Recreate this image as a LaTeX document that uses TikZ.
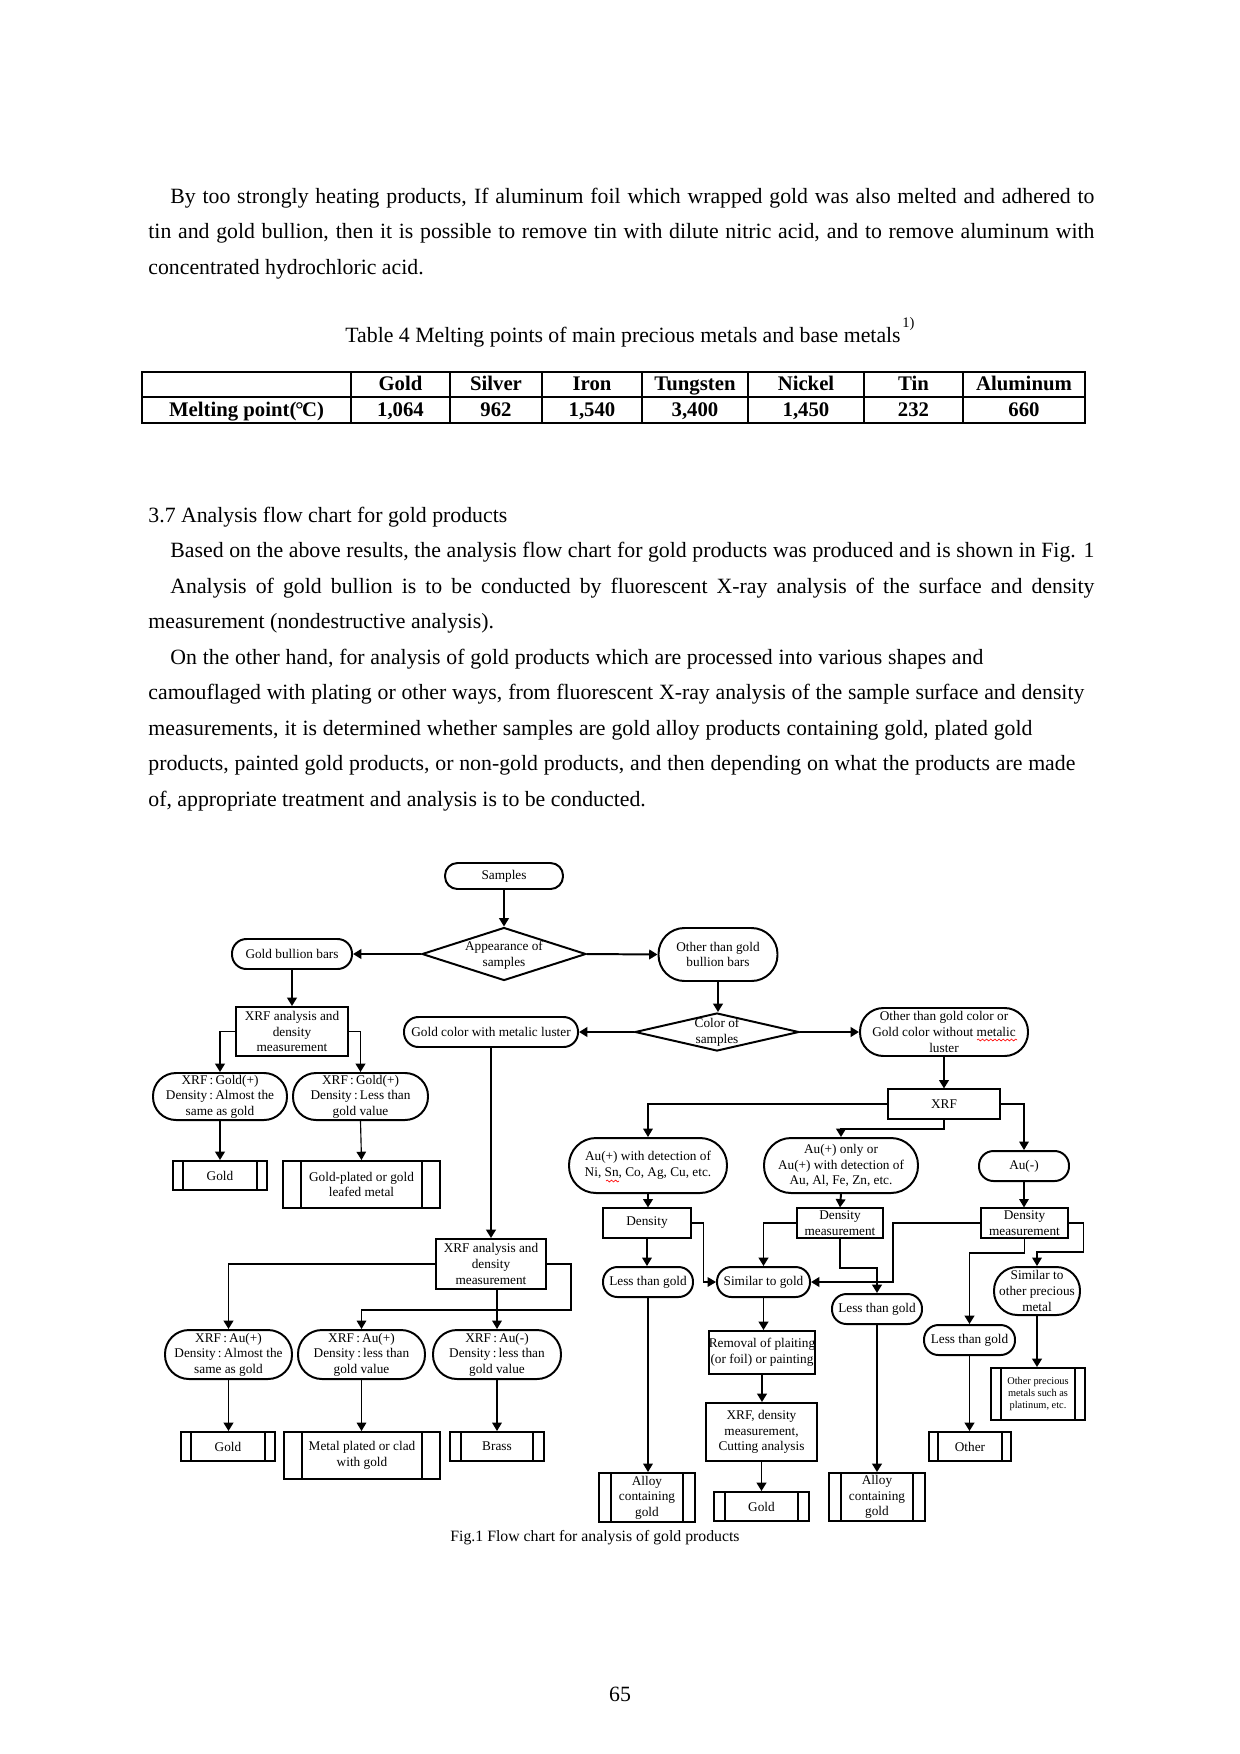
\documentclass[tikz,border=0pt]{standalone}
\usepackage{fontspec}
\setmainfont{Liberation Serif}
\usetikzlibrary{arrows.meta,shapes.geometric,decorations.pathmorphing}
\newlength\pxu
\setlength\pxu{0.16935mm}
\newcommand\pbars[2]{\draw[line width=0.95pt] ([xshift=#2\pxu]#1.north west) -- ([xshift=#2\pxu]#1.south west) ([xshift=-#2\pxu]#1.north east) -- ([xshift=-#2\pxu]#1.south east);}
\tikzset{
 fc/.style={font=\fontsize{6.4}{7.5}\selectfont, align=center, inner sep=0pt},
 stad/.style 2 args={fc, draw, line width=0.95pt, minimum width=#1\pxu, minimum height=#2\pxu, rounded corners={(#2*0.5-0.5)*\pxu}},
 rbox/.style 2 args={fc, draw, line width=0.95pt, minimum width=#1\pxu, minimum height=#2\pxu},
 tbox/.style 2 args={fc, draw, line width=0.55pt, minimum width=#1\pxu, minimum height=#2\pxu},
 dia/.style 2 args={draw, diamond, line width=0.95pt, inner sep=0pt, minimum width=#1\pxu, minimum height=#2\pxu},
 ar/.style={-{Triangle[width=4.6pt,length=4pt]}, line width=0.95pt},
 art/.style={-{Triangle[width=4.6pt,length=4pt]}, line width=0.55pt},
 bt/.style={font=\fontsize{10.5}{12}\selectfont, inner sep=0pt, anchor=west, text height=0.6em, text depth=0pt},
 tb/.style={font=\fontsize{10}{12}\selectfont\bfseries, inner sep=0pt, text height=0.6em, text depth=0pt},
 wav/.style={red, line width=0.3pt, decorate, decoration={snake, amplitude=0.45pt, segment length=2pt}},
}
\begin{document}
\begin{tikzpicture}[x=0.16935mm, y=-0.16935mm]
\useasboundingbox (0,0) rectangle (1240,1754);
\fill[white] (0,0) rectangle (1240,1754);

% ---------- body text ----------
\node[bt] (l1) at (170,197) {\makebox[924\pxu][s]{By too strongly heating products, If aluminum foil which wrapped gold was also melted and adhered to}};
\node[bt] (l2) at (148,232.5) {\makebox[946\pxu][s]{tin and gold bullion, then it is possible to remove tin with dilute nitric acid, and to remove aluminum with}};
\node[bt] (l3) at (148,268) {concentrated hydrochloric acid.};

\node[bt] (tcap) at (345,336) {Table 4 Melting points of main precious metals and base metals};
\node[font=\fontsize{7}{8}\selectfont, inner sep=0pt, anchor=west] (tsup) at (902,324) {1)};

% ---------- table ----------
\draw[line width=1pt] (142,372) rectangle (1085,423);
\draw[line width=1pt] (142,397) -- (1085,397);
\foreach \cx in {351,450,542,642,748,864,963} {\draw[line width=1pt] (\cx,372) -- (\cx,423);}
\node[tb] (h1) at (400.5,384.5) {Gold};
\node[tb] (h2) at (496,384.5) {Silver};
\node[tb] (h3) at (592,384.5) {Iron};
\node[tb] (h4) at (695,384.5) {Tungsten};
\node[tb] (h5) at (806,384.5) {Nickel};
\node[tb] (h6) at (913.5,384.5) {Tin};
\node[tb] (h7) at (1024,384.5) {Aluminum};
\node[tb] (r0) at (246.5,410) {Melting point(\kern-0.05em°\kern-0.08em C)};
\node[tb] (r1) at (400.5,410) {1,064};
\node[tb] (r2) at (496,410) {962};
\node[tb] (r3) at (592,410) {1,540};
\node[tb] (r4) at (695,410) {3,400};
\node[tb] (r5) at (806,410) {1,450};
\node[tb] (r6) at (913.5,410) {232};
\node[tb] (r7) at (1024,410) {660};

% ---------- section text ----------
\node[bt] (s0) at (148,516) {3.7 Analysis flow chart for gold products};
\node[bt] (s1) at (170,551.5) {\makebox[924\pxu][s]{Based on the above results, the analysis flow chart for gold products was produced and is shown in Fig. 1}};
\node[bt] (s2) at (170,587) {\makebox[924\pxu][s]{Analysis of gold bullion is to be conducted by fluorescent X-ray analysis of the surface and density}};
\node[bt] (s3) at (148,622.5) {measurement (nondestructive analysis).};
\node[bt] (s4) at (170,658) {\makebox[813\pxu][s]{On the other hand, for analysis of gold products which are processed into various shapes and}};
\node[bt] (s5) at (148,693.5) {\makebox[936\pxu][s]{camouflaged with plating or other ways, from fluorescent X-ray analysis of the sample surface and density}};
\node[bt] (s6) at (148,729) {\makebox[884\pxu][s]{measurements, it is determined whether samples are gold alloy products containing gold, plated gold}};
\node[bt] (s7) at (148,764.5) {\makebox[927\pxu][s]{products, painted gold products, or non-gold products, and then depending on what the products are made}};
\node[bt] (s8) at (148,800) {of, appropriate treatment and analysis is to be conducted.};

% ---------- flow chart nodes ----------
\node[stad={118}{26}] (samples) at (504,876) {Samples};
\node[dia={164}{53}] (app) at (504,954) {};
\node[fc] (appt) at (504,955) {Appearance of\\samples};
\node[stad={120}{30}] (gbb) at (292,954) {Gold bullion bars};
\node[stad={119}{53}] (otg) at (718,954.5) {Other than gold\\bullion bars};
\node[rbox={112}{49}] (xrf1) at (292,1031.5) {XRF analysis and\\density\\measurement};
\node[stad={174}{30}] (gcl) at (491,1032) {Gold color with metalic luster};
\node[dia={164}{38}] (col) at (717,1032) {};
\node[fc] (colt) at (717,1032) {Color of\\samples};
\node[stad={168}{48}] (otc) at (944,1032) {Other than gold color or\\Gold color without metalic\\luster};
\node[stad={134}{47}] (e1) at (220,1096.5) {XRF\,:\,Gold(+)\\Density\,:\,Almost the\\same as gold};
\node[stad={135}{47}] (e2) at (360.5,1096.5) {XRF\,:\,Gold(+)\\Density\,:\,Less than\\gold value};
\node[rbox={94}{29}] (g1) at (220,1175.5) {Gold};
\node[rbox={157}{47}] (gp) at (361.5,1184.5) {Gold-plated or gold\\leafed metal};
\node[tbox={112}{30}] (xrf) at (944,1104) {XRF};
\node[stad={158}{55}] (a1) at (648,1165.5) {Au(+) with detection of\\Ni, Sn, Co, Ag, Cu, etc.};
\node[stad={154}{55}] (a2) at (841,1165.5) {Au(+) only or\\Au(+) with detection of\\Au, Al, Fe, Zn, etc.};
\node[stad={90}{30}] (am) at (1024,1166) {Au(-)};
\node[tbox={88}{30}] (d1) at (647,1223) {Density};
\node[tbox={86}{30}] (d2) at (840,1223) {Density\\measurement};
\node[tbox={87}{30}] (d3) at (1024.5,1223) {Density\\measurement};
\node[rbox={110}{50}] (xrf2) at (491,1264) {XRF analysis and\\density\\measurement};
\node[stad={90}{30}] (lt1) at (648,1282) {Less than gold};
\node[stad={93}{30}] (sg) at (763.5,1282) {Similar to gold};
\node[stad={90}{30}] (lt2) at (877,1309) {Less than gold};
\node[stad={86}{48}] (so) at (1037,1291) {Similar to\\other precious\\metal};
\node[stad={91}{30}] (lt3) at (969.5,1340) {Less than gold};
\node[rbox={106}{43}] (rm) at (762,1352.5) {Removal of plaiting\\(or foil) or painting};
\node[rbox={94}{52}, font=\fontsize{5}{6}\selectfont] (op) at (1038,1394) {Other precious\\metals such as\\platinum, etc.};
\node[stad={127}{49}] (e3) at (228.5,1354.5) {XRF\,:\,Au(+)\\Density\,:\,Almost the\\same as gold};
\node[stad={127}{49}] (e4) at (361.5,1354.5) {XRF\,:\,Au(+)\\Density\,:\,less than\\gold value};
\node[stad={128}{49}] (e5) at (497,1354.5) {XRF\,:\,Au(-)\\Density\,:\,less than\\gold value};
\node[rbox={111}{58}] (xd) at (761.5,1432) {XRF, density\\measurement,\\Cutting analysis};
\node[rbox={94}{29}] (g2) at (228,1446.5) {Gold};
\node[rbox={156}{47}] (mp) at (362,1455.5) {Metal plated or clad\\with gold};
\node[rbox={94}{29}] (br) at (497,1446.5) {Brass};
\node[rbox={82}{29}] (oth) at (970,1446.5) {Other};
\node[rbox={96}{49}] (al1) at (647,1497.5) {Alloy\\containing\\gold};
\node[rbox={95}{29}] (g3) at (761.5,1506.5) {Gold};
\node[rbox={96}{48}] (al2) at (877,1497) {Alloy\\containing\\gold};
\node[font=\fontsize{7.6}{9}\selectfont, inner sep=0pt] (fcap) at (595,1538) {Fig.1 Flow chart for analysis of gold products};

\pbars{g1}{11}
\pbars{gp}{19}
\pbars{g2}{11}
\pbars{mp}{19}
\pbars{br}{12}
\pbars{oth}{10}
\pbars{op}{11}
\pbars{al1}{13}
\pbars{g3}{12}
\pbars{al2}{13}

% spell-check marks
\draw[wav] (606,1181) -- (619,1181);
\draw[wav] (977,1040) -- (1017,1040);

% ---------- connectors ----------
\draw[ar] (samples.south) -- (app.north);
\draw[ar] (app.west) -- (gbb.east);
\draw[ar] (app.east) -- (otg.west);
\draw[ar] (gbb.south) -- (xrf1.north);
\draw[ar] (xrf1.west) -| (e1.north);
\draw[ar] (xrf1.east) -| (e2.north);
\draw[ar] (e1.south) -- (g1.north);
\draw[art] (e2.south) -- (gp.north);
\draw[ar] (otg.south) -- (otg.south |- col.north);
\draw[ar] (col.west) -- (gcl.east);
\draw[ar] (col.east) -- (otc.west);
\draw[ar] (gcl.south) -- (xrf2.north);
\draw[ar] (otc.south) -- (xrf.north);
\draw[art] (xrf.west) -| (a1.north);
\draw[ar] (xrf.south) -- ++(0,9) -| (a2.north);
\draw[art] (xrf.east) -| (am.north);
\draw[ar] (a1.south) -- (a1.south |- d1.north);
\draw[ar] (a2.south) -- (d2.north);
\draw[art] (am.south) -- (am.south |- d3.north);
\draw[art] (d1.south) -- (d1.south |- lt1.north);
\draw[art] (d1.east) -- ++(12,0) |- (sg.west);
\draw[ar] (d2.west) -| (sg.north);
\draw[ar] (d2.south) -- ++(0,29) -| (lt2.north);
\draw[ar] (d3.west) -- ++(-87,0) |- (sg.east);
\draw[ar] (d3.south) -- ++(0,14) -| (lt3.north);
\draw[art] (d3.east) -- ++(15,0) -- ++(0,29) -| (so.north);
\draw[ar] (xrf2.west) -| (e3.north);
\draw[art] (xrf2.east) -- ++(24,0) -- ++(0,46) -| (e4.north);
\draw[art] (xrf2.south -| e5.north) -- (e5.north);
\draw[ar] (e3.south) -- (e3.south |- g2.north);
\draw[art] (e4.south) -- (e4.south |- mp.north);
\draw[art] (e5.south) -- (br.north);
\draw[art] (lt1.south) -- (lt1.south |- al1.north);
\draw[ar] (sg.south) -- (sg.south |- rm.north);
\draw[ar] (rm.south) -- (rm.south |- xd.north);
\draw[ar] (xd.south) -- (xd.south |- g3.north);
\draw[ar] (lt2.south) -- (al2.north);
\draw[ar] (lt3.south) -- (lt3.south |- oth.north);
\draw[ar] (so.south) -- (so.south |- op.north);

\node[bt, anchor=center] (pg) at (620,1695) {65};
\end{tikzpicture}
\end{document}
